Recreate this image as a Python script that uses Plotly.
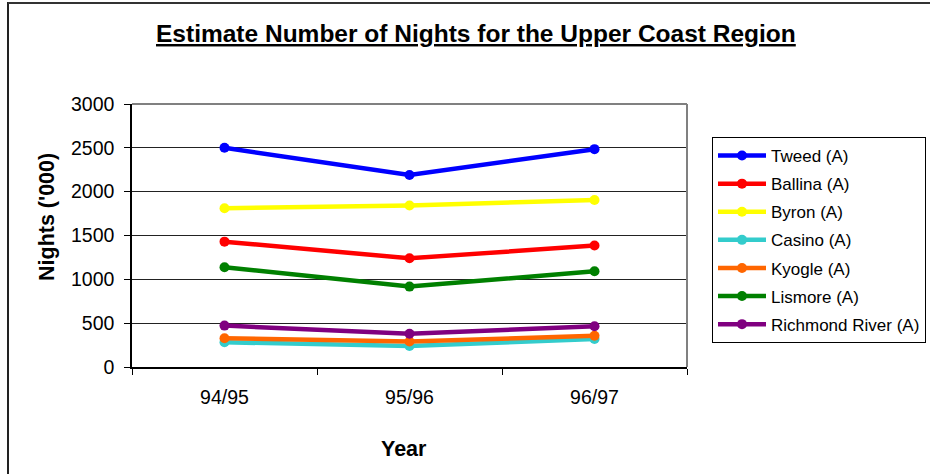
import plotly.graph_objects as go

# Estimated visitor nights ('000) by local government area, Upper Coast Region
years = ["94/95", "95/96", "96/97"]
series_names = ["Tweed (A)", "Ballina (A)", "Byron (A)", "Casino (A)",
                "Kyogle (A)", "Lismore (A)", "Richmond River (A)"]
tweed = [2500, 2190, 2485]
ballina = [1430, 1240, 1385]
byron = [1810, 1842, 1905]
casino = [282, 240, 320]
kyogle = [328, 290, 357]
lismore = [1138, 917, 1093]
richmond_river = [472, 380, 465]
series_values = [tweed, ballina, byron, casino, kyogle, lismore, richmond_river]
colors = ["#0000FF", "#FF0000", "#FFFF00", "#33CCCC", "#FF6600", "#008000", "#800080"]
y_ticks = [0, 500, 1000, 1500, 2000, 2500, 3000]

W, H = 930, 474
L, R, T, B = 132, 243, 104, 107
pw, ph = W - L - R, H - T - B


def px_x(x):
    return (x - L) / pw


def px_y(y):
    return (H - B - y) / ph


fig = go.Figure()
for name, vals, col in zip(series_names, series_values, colors):
    fig.add_trace(go.Scatter(
        x=years, y=vals, name=name, legendgroup=name,
        mode="lines+markers",
        line=dict(color=col, width=4.5),
        marker=dict(color=col, size=10),
    ))

font_family = "Liberation Sans, Arial, sans-serif"

fig.update_layout(
    width=W, height=H,
    margin=dict(l=L, r=R, t=T, b=B, autoexpand=False),
    paper_bgcolor="white", plot_bgcolor="white",
    font=dict(family=font_family, color="black"),
    showlegend=True,
    legend=dict(
        x=px_x(712), y=px_y(137), xanchor="left", yanchor="top",
        bordercolor="black", borderwidth=1, bgcolor="white",
        font=dict(size=17, family=font_family),
        traceorder="grouped", tracegroupgap=3,
        itemwidth=48,
    ),
    xaxis=dict(
        type="category", range=[-0.5, 2.5],
        tickson="boundaries", ticks="outside", ticklen=6, tickcolor="black",
        showline=True, linecolor="black", linewidth=1.5,
        showgrid=False, zeroline=False,
        tickfont=dict(size=19.5), ticklabelstandoff=12,
    ),
    yaxis=dict(
        range=[0, 3000], tickvals=y_ticks,
        ticks="outside", ticklen=6, tickcolor="black",
        showline=True, linecolor="black", linewidth=1.5,
        showgrid=True, gridcolor="#222222", gridwidth=1,
        zeroline=False, tickfont=dict(size=19.5), ticklabelstandoff=6,
    ),
    shapes=[
        # plot area frame (top and right edges)
        dict(type="line", xref="paper", yref="paper", x0=0, x1=1, y0=1, y1=1,
             line=dict(color="#808080", width=2), layer="above"),
        dict(type="line", xref="paper", yref="paper", x0=1, x1=1, y0=0, y1=1,
             line=dict(color="#808080", width=2), layer="above"),
        # outer chart border
        dict(type="line", xref="paper", yref="paper",
             x0=px_x(8), x1=px_x(8), y0=px_y(2), y1=px_y(H + 5),
             line=dict(color="#222222", width=2)),
        dict(type="line", xref="paper", yref="paper",
             x0=px_x(8), x1=px_x(W + 5), y0=px_y(3), y1=px_y(3),
             line=dict(color="#333333", width=2)),
    ],
    annotations=[
        dict(text="<b><u>Estimate Number of Nights for the Upper Coast Region</u></b>",
             xref="paper", yref="paper", x=px_x(476), y=px_y(33),
             xanchor="center", yanchor="middle", showarrow=False,
             font=dict(size=24.5)),
        dict(text="<b>Nights ('000)</b>", xref="paper", yref="paper",
             x=px_x(47), y=px_y(217), xanchor="center", yanchor="middle",
             textangle=-90, showarrow=False, font=dict(size=21.5)),
        dict(text="<b>Year</b>", xref="paper", yref="paper",
             x=px_x(404), y=px_y(449), xanchor="center", yanchor="middle",
             showarrow=False, font=dict(size=21.5)),
    ],
)

fig.write_html("out.html")
